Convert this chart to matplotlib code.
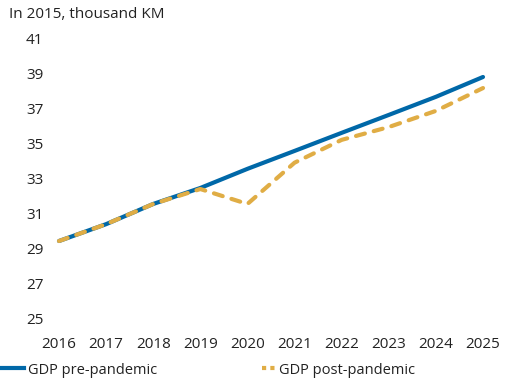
import matplotlib
matplotlib.use("Agg")
import matplotlib.pyplot as plt
from matplotlib.lines import Line2D

years = [2016, 2017, 2018, 2019, 2020, 2021, 2022, 2023, 2024, 2025]
pre_pandemic = [29.44, 30.4, 31.55, 32.46, 33.55, 34.57, 35.6, 36.62, 37.65, 38.78]
post_pandemic = [29.44, 30.4, 31.55, 32.4, 31.55, 33.9, 35.2, 35.93, 36.85, 38.15]
yticks = [25, 27, 29, 31, 33, 35, 37, 39, 41]

BLUE = "#0068a8"
GOLD = "#e0ad45"
TXT = "#222222"

plt.rcParams['font.family'] = ['Open Sans', 'DejaVu Sans']

W, H = 516, 381
fig = plt.figure(figsize=(W / 100, H / 100), dpi=100)

# pixel mapping: 2016 -> x=59, 2025 -> x=483; 41 -> y=38, 25 -> y=319
xl, xr = 2015.8, 2025.3
ppy = (483 - 59) / 9
left_px = 59 - (2016 - xl) * ppy
right_px = 483 + (xr - 2025) * ppy
top_px, bot_px = 38, 319
ax = fig.add_axes([left_px / W, 1 - bot_px / H, (right_px - left_px) / W, (bot_px - top_px) / H])

ax.plot(years, pre_pandemic, color=BLUE, lw=3, solid_capstyle='round', clip_on=False, zorder=3)
ax.plot(years, post_pandemic, color=GOLD, lw=3, dashes=(2.2, 2.2), dash_capstyle='round', clip_on=False, zorder=4)

ax.set_xlim(xl, xr)
ax.set_ylim(25, 41)
ax.set_xticks(years)
ax.set_xticklabels([str(y) for y in years])
ax.set_yticks(yticks)
for s in ax.spines.values():
    s.set_visible(False)
ax.tick_params(axis='both', length=0, labelsize=11, colors=TXT)
ax.tick_params(axis='x', pad=13)
ax.tick_params(axis='y', pad=4.5)

fig.text(9 / W, 1 - 15 / H, "In 2015, thousand KM", fontsize=11, color=TXT, va='center', ha='left')

h1 = Line2D([], [], color=BLUE, lw=3)
h2 = Line2D([], [], color=GOLD, lw=3, dashes=(1, 1))
l1 = fig.legend(handles=[h1], labels=["GDP pre-pandemic"], loc='center left',
                bbox_to_anchor=(-2 / W, 1 - 370 / H), frameon=False, fontsize=10.5,
                handlelength=1.8, handletextpad=0.25, borderaxespad=0, borderpad=0)
l2 = fig.legend(handles=[h2], labels=["GDP post-pandemic"], loc='center left',
                bbox_to_anchor=(262 / W, 1 - 370 / H), frameon=False, fontsize=10.5,
                handlelength=0.9, handletextpad=0.25, borderaxespad=0, borderpad=0)
for l in (l1, l2):
    for t in l.get_texts():
        t.set_color(TXT)

fig.savefig("out.png", dpi=100)
